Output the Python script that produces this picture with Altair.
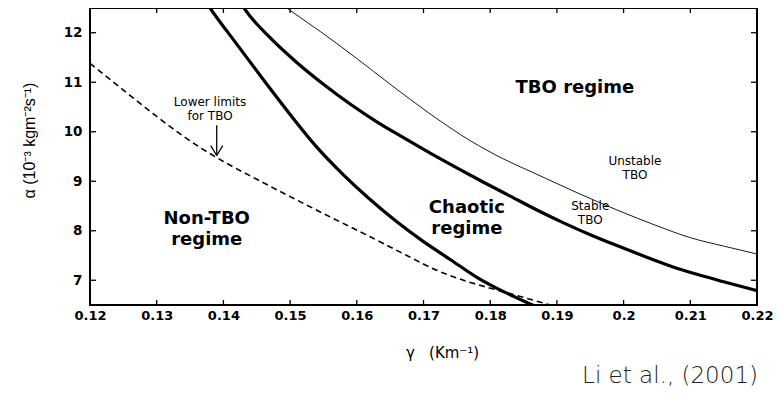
import altair as alt
import pandas as pd

# ---- data ----
x_ticks = [0.12, 0.13, 0.14, 0.15, 0.16, 0.17, 0.18, 0.19, 0.20, 0.21, 0.22]
y_ticks = [7, 8, 9, 10, 11, 12]

# dashed: lower limits for TBO
lower_g = [0.12, 0.125, 0.13, 0.134, 0.137, 0.14, 0.145, 0.15, 0.156, 0.162, 0.1675, 0.172, 0.176, 0.18, 0.1835, 0.1877, 0.189]
lower_a = [11.38, 10.84, 10.31, 9.91, 9.64, 9.4, 9.04, 8.69, 8.28, 7.88, 7.5, 7.2, 7.0, 6.84, 6.71, 6.55, 6.5]

# thick left: Non-TBO / chaotic boundary
chaos_g = [0.1375, 0.138, 0.142, 0.146, 0.15, 0.154, 0.158, 0.162, 0.166, 0.17, 0.174, 0.178, 0.182, 0.186, 0.188]
chaos_a = [12.6, 12.5, 11.77, 11.05, 10.35, 9.69, 9.13, 8.63, 8.18, 7.78, 7.42, 7.06, 6.77, 6.52, 6.4]

# thick middle: chaotic / stable TBO boundary
stable_g = [0.1425, 0.143, 0.147, 0.151, 0.155, 0.159, 0.163, 0.167, 0.171, 0.175, 0.179, 0.183, 0.187, 0.191, 0.195, 0.199, 0.203, 0.207, 0.211, 0.215, 0.22]
stable_a = [12.63, 12.52, 11.9, 11.4, 10.96, 10.56, 10.2, 9.88, 9.57, 9.27, 8.98, 8.7, 8.42, 8.16, 7.92, 7.7, 7.49, 7.29, 7.12, 6.97, 6.79]

# thin: stable / unstable TBO boundary
unstable_g = [0.1485, 0.1495, 0.155, 0.16, 0.165, 0.171, 0.177, 0.182, 0.187, 0.193, 0.199, 0.205, 0.21, 0.215, 0.22]
unstable_a = [12.6, 12.5, 11.98, 11.48, 10.96, 10.36, 9.82, 9.45, 9.14, 8.77, 8.42, 8.1, 7.86, 7.69, 7.53]

# arrow "Lower limits for TBO"
arrow_g = [0.139]
arrow_top = [10.13]
arrow_tip = [9.52]
head_g = [0.1381, 0.1399]
head_a = [9.72, 9.72]

# labels (position = first line)
big_labels = ["Non-TBO\nregime", "Chaotic\nregime", "TBO regime"]
big_g = [0.1375, 0.1765, 0.1927]
big_a = [8.24, 8.45, 10.89]

small_labels = ["Lower limits\nfor TBO", "Unstable\nTBO", "Stable\nTBO"]
small_g = [0.138, 0.2017, 0.195]
small_a = [10.61, 9.40, 8.49]

credit_text = ["Li et al., (2001)"]

W, H = 667, 297

xs = alt.Scale(domain=[0.12, 0.22], nice=False, zero=False)
ys = alt.Scale(domain=[6.5, 12.5], nice=False, zero=False)

x_axis = alt.Axis(
    values=x_ticks, format=".2~f", domain=False, ticks=False, grid=False, tickSize=0,
    labelFont="DejaVu Sans", labelFontSize=13, labelFontWeight="bold", labelColor="black",
    labelPadding=4, labelFlush=False,
    title="γ\u00a0\u00a0\u00a0(Km⁻¹)", titleFont="DejaVu Sans", titleFontSize=15, titleFontWeight="normal",
    titleColor="black", titleX=352, titleY=47, titleAlign="center", titleBaseline="middle",
)
y_axis = alt.Axis(
    values=y_ticks, format="d", domain=False, ticks=False, grid=False, tickSize=0,
    labelFont="DejaVu Sans", labelFontSize=13.5, labelFontWeight="bold", labelColor="black",
    labelPadding=8, labelFlush=False,
    title="α (10⁻³ kgm⁻²s⁻¹)", titleFont="Liberation Sans", titleFontSize=16,
    titleFontWeight="normal", titleColor="black", titleX=-61, titleY=132,
    titleAlign="center", titleBaseline="middle",
)

X = alt.X("g:Q", scale=xs, axis=x_axis)
Y = alt.Y("a:Q", scale=ys, axis=y_axis)


def curve(g, a, **kw):
    df = pd.DataFrame({"g": g, "a": a})
    return alt.Chart(df).mark_line(clip=True, color="black", interpolate="monotone", **kw).encode(x=X, y=Y)


lower = curve(lower_g, lower_a, strokeWidth=1.6, strokeDash=[6, 4])
chaos = curve(chaos_g, chaos_a, strokeWidth=3.2)
stable = curve(stable_g, stable_a, strokeWidth=3.2)
unstable = curve(unstable_g, unstable_a, strokeWidth=0.9)

xt = pd.DataFrame({"g": x_ticks})
yt = pd.DataFrame({"a": y_ticks})
tick_bottom = alt.Chart(xt).mark_rule(color="black", strokeWidth=1.3).encode(x=X, y=alt.value(H), y2=alt.value(H - 5))
tick_top = alt.Chart(xt).mark_rule(color="black", strokeWidth=1.3).encode(x=X, y=alt.value(0), y2=alt.value(5))
tick_left = alt.Chart(yt).mark_rule(color="black", strokeWidth=1.3).encode(y=Y, x=alt.value(0), x2=alt.value(6))
tick_right = alt.Chart(yt).mark_rule(color="black", strokeWidth=1.3).encode(y=Y, x=alt.value(W), x2=alt.value(W - 6))

arrow_df = pd.DataFrame({"g": arrow_g, "a": arrow_top, "a2": arrow_tip})
shaft = alt.Chart(arrow_df).mark_rule(color="black", strokeWidth=1.3).encode(x=X, y=Y, y2="a2:Q")
head_df = pd.DataFrame({"g": head_g, "a": head_a, "g2": arrow_g * 2, "a2": arrow_tip * 2})
head = alt.Chart(head_df).mark_rule(color="black", strokeWidth=1.3).encode(x=X, y=Y, x2="g2:Q", y2="a2:Q")

big_df = pd.DataFrame({"t": big_labels, "g": big_g, "a": big_a})
big = alt.Chart(big_df).mark_text(
    font="DejaVu Sans", fontSize=18, fontWeight="bold", color="black", align="center",
    baseline="middle", lineBreak="\n", lineHeight=21,
).encode(x=X, y=Y, text="t:N")

small_df = pd.DataFrame({"t": small_labels, "g": small_g, "a": small_a})
small = alt.Chart(small_df).mark_text(
    font="DejaVu Sans", fontSize=12, color="black", align="center",
    baseline="middle", lineBreak="\n", lineHeight=14,
).encode(x=X, y=Y, text="t:N")

credit = alt.Chart(pd.DataFrame({"t": credit_text})).mark_text(
    font="DejaVu Sans", fontSize=23, fontWeight=300, color="#222222", align="right",
    baseline="alphabetic", clip=False,
).encode(x=alt.value(W + 1), y=alt.value(H + 78), text="t:N")

chart = alt.layer(
    lower, chaos, stable, unstable,
    tick_bottom, tick_top, tick_left, tick_right,
    shaft, head, big, small, credit,
).properties(
    width=W, height=H,
    autosize=alt.AutoSizeParams(type="none"),
    padding={"left": 82, "top": 0, "right": 16, "bottom": 82},
    background="white",
).configure_view(stroke="black", strokeWidth=2)

chart.save("out.html", embed_options={"renderer": "svg", "actions": False})
